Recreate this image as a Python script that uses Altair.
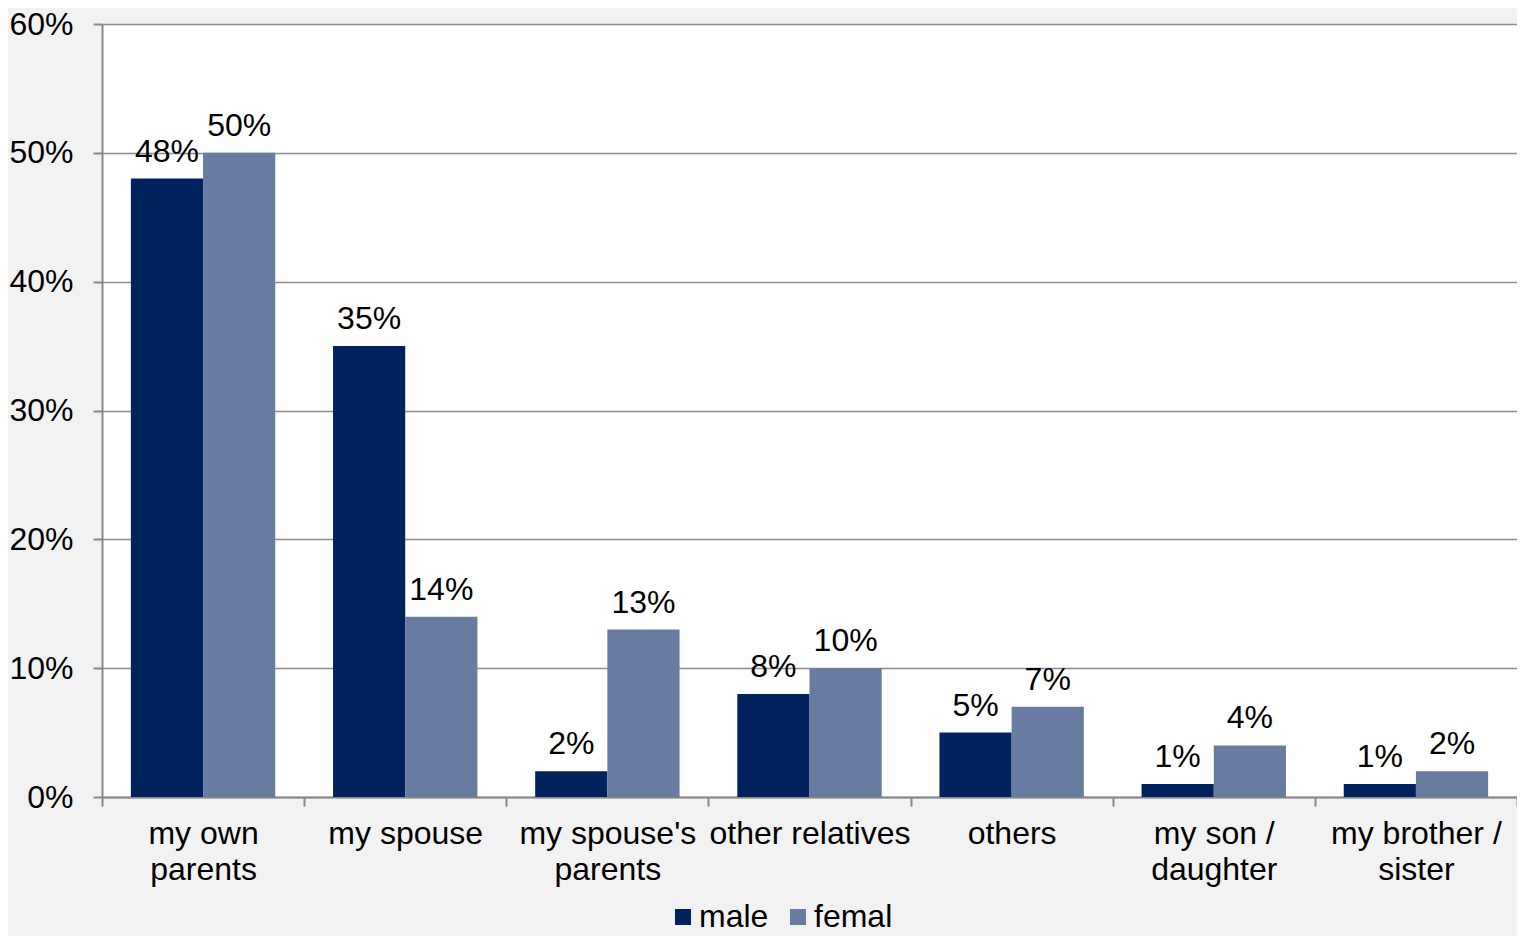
import altair as alt
import pandas as pd

categories = ["my own|parents", "my spouse", "my spouse's|parents", "other relatives",
              "others", "my son /|daughter", "my brother /|sister"]
male = [0.48, 0.35, 0.02, 0.08, 0.05, 0.01, 0.01]
femal = [0.50, 0.14, 0.13, 0.10, 0.07, 0.04, 0.02]
series = ["male", "femal"]
colors = ["#00235e", "#687ba0"]

rows = []
for c, m, f in zip(categories, male, femal):
    rows.append({"cat": c, "series": "male", "value": m})
    rows.append({"cat": c, "series": "femal", "value": f})
df = pd.DataFrame(rows)

FONT = "Liberation Sans"
FS = 32

x = alt.X("cat:N", sort=categories, title=None,
          scale=alt.Scale(paddingInner=0, paddingOuter=0),
          axis=alt.Axis(labelExpr="split(datum.label, '|')", labelAngle=0,
                        labelFontSize=FS, labelFont=FONT, labelColor="black",
                        labelLineHeight=36, labelPadding=12, labelLimit=0,
                        tickBand="extent", tickSize=9, tickColor="#888888",
                        domainColor="#888888", domainWidth=2, tickWidth=2,
                        grid=False))
xo = alt.XOffset("series:N", sort=series,
                 scale=alt.Scale(paddingInner=0, paddingOuter=0.4))
y = alt.Y("value:Q", title=None,
          scale=alt.Scale(domain=[0, 0.6], nice=False),
          axis=alt.Axis(format=".0%", values=[0, 0.1, 0.2, 0.3, 0.4, 0.5, 0.6],
                        labelFontSize=FS, labelFont=FONT, labelColor="black",
                        labelPadding=20, tickSize=9, tickColor="#888888",
                        domainColor="#888888", domainWidth=2, tickWidth=2,
                        gridColor="#8c8c8c", gridWidth=1.5))
color = alt.Color("series:N", sort=series,
                  scale=alt.Scale(domain=series, range=colors),
                  legend=alt.Legend(title=None, orient="none", direction="horizontal",
                                    legendX=565, legendY=877, symbolType="square",
                                    symbolSize=256, symbolStrokeWidth=0,
                                    labelFontSize=FS, labelFont=FONT, labelColor="black",
                                    columnPadding=13, labelOffset=0))

base = alt.Chart(df)
bars = base.mark_bar(opacity=1).encode(x=x, xOffset=xo, y=y, color=color)
labels = base.mark_text(baseline="alphabetic", dy=-17, fontSize=FS, font=FONT,
                        color="black").encode(
    x=x, xOffset=xo, y=y, text=alt.Text("value:Q", format=".0%"))

chart = (bars + labels).properties(
    width=1415, height=773,
    padding={"left": 94, "top": 16, "right": 0, "bottom": 139},
    autosize=alt.AutoSizeParams(type="none"),
    background="#f2f2f2",
).configure_view(fill="white", stroke=None)

chart.save("out.html", embed_options={"renderer": "svg", "actions": False})
